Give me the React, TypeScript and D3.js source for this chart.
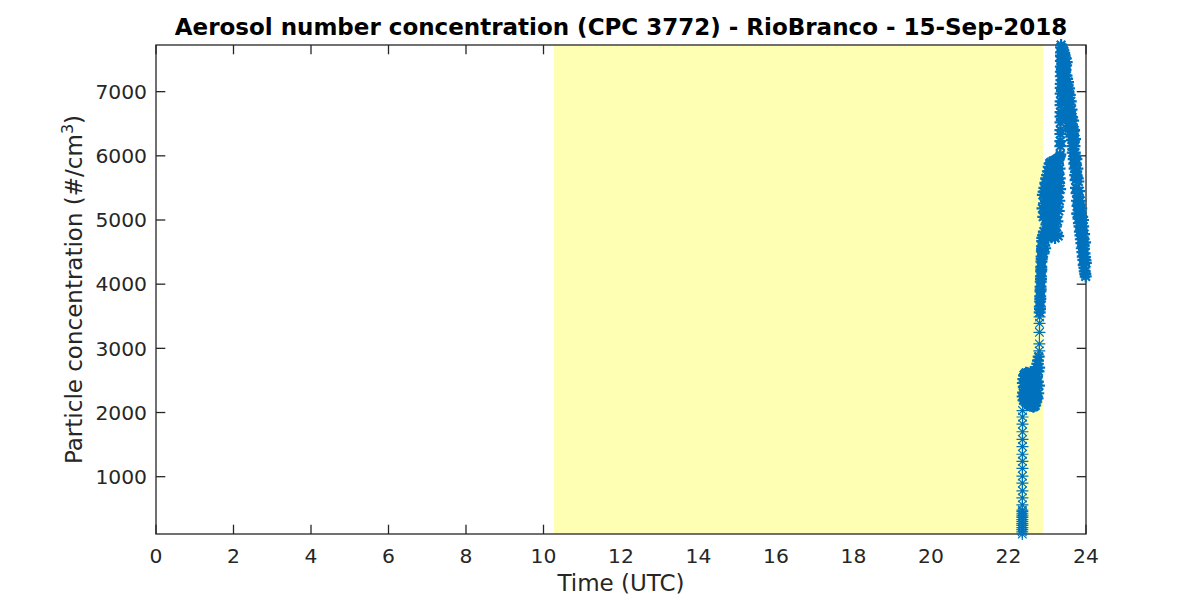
import React from "react";
import * as d3 from "d3";

const TITLE = "Aerosol number concentration (CPC 3772) - RioBranco - 15-Sep-2018";
const X_LABEL = "Time (UTC)";
const xTicks = [0, 2, 4, 6, 8, 10, 12, 14, 16, 18, 20, 22, 24];
const yTicks = [1000, 2000, 3000, 4000, 5000, 6000, 7000];
const daylight: [number, number] = [10.27, 22.89];

// [hour UTC, particles/cm3]
const startup: [number, number][] = [
  [22.356, 107], [22.356, 140], [22.356, 175], [22.357, 205], [22.357, 240], [22.357, 270],
  [22.357, 300], [22.357, 330], [22.358, 365], [22.358, 390], [22.358, 420], [22.358, 455],
  [22.358, 480], [22.358, 560], [22.359, 670], [22.359, 780], [22.359, 900], [22.359, 1010],
  [22.360, 1130], [22.360, 1240], [22.360, 1350], [22.361, 1470], [22.361, 1580], [22.361, 1700],
  [22.362, 1820], [22.362, 1930], [22.362, 2030],
];

const plateau: [number, number][] = [
  [22.365, 2250], [22.371, 2460], [22.377, 2310], [22.383, 2520], [22.389, 2190], [22.395, 2400],
  [22.401, 2580], [22.407, 2280], [22.413, 2470], [22.419, 2210], [22.425, 2600], [22.431, 2350],
  [22.437, 2170], [22.443, 2490], [22.449, 2300], [22.455, 2620], [22.461, 2230], [22.467, 2420],
  [22.473, 2150], [22.479, 2550], [22.485, 2330], [22.491, 2180], [22.497, 2610], [22.503, 2270],
  [22.509, 2450], [22.515, 2140], [22.521, 2380], [22.527, 2590], [22.533, 2200], [22.539, 2480],
  [22.545, 2120], [22.551, 2320], [22.557, 2560], [22.563, 2110], [22.569, 2400], [22.575, 2630],
  [22.581, 2170], [22.587, 2290], [22.593, 2510], [22.599, 2100], [22.605, 2360], [22.611, 2600],
  [22.617, 2130], [22.623, 2440], [22.629, 2250], [22.635, 2580], [22.641, 2090], [22.647, 2340],
  [22.653, 2520], [22.659, 2100], [22.665, 2410], [22.671, 2640], [22.677, 2180], [22.683, 2470],
  [22.689, 2110], [22.695, 2560], [22.701, 2290], [22.707, 2650], [22.713, 2200], [22.719, 2430],
  [22.725, 2700], [22.731, 2250], [22.737, 2560], [22.743, 2760], [22.749, 2220], [22.755, 2480],
  [22.761, 2810], [22.767, 2300], [22.773, 2640], [22.779, 2870], [22.785, 2420], [22.790, 2700],
];

const jump: [number, number][] = [
  [22.795, 2960], [22.797, 3070], [22.799, 3250], [22.801, 3390], [22.803, 3490],
];

const rise: [number, number][] = [
  [22.806, 3560], [22.809, 3650], [22.812, 3610], [22.815, 3730], [22.818, 3810], [22.821, 3770],
  [22.824, 3890], [22.827, 3960], [22.830, 3920], [22.833, 4040], [22.836, 4120], [22.839, 4080],
  [22.842, 4200], [22.845, 4270], [22.848, 4230], [22.851, 4350], [22.854, 4430], [22.857, 4390],
  [22.860, 4510], [22.863, 4590], [22.866, 4550], [22.869, 4670],
];

const midBand: [number, number][] = [
  [22.872, 4720], [22.877, 5180], [22.882, 4520], [22.887, 5390], [22.892, 4760], [22.897, 5050],
  [22.902, 4480], [22.907, 5440], [22.912, 4820], [22.917, 5260], [22.922, 4600], [22.927, 5500],
  [22.932, 4700], [22.937, 5120], [22.942, 5350], [22.947, 4560], [22.952, 5580], [22.957, 5010],
  [22.962, 4750], [22.967, 5290], [22.972, 5650], [22.977, 4930], [22.982, 5440], [22.987, 5100],
  [22.992, 4780], [22.997, 5700], [23.002, 5220], [23.007, 4900], [23.012, 5520], [23.017, 5760],
  [23.022, 4720], [23.027, 5060], [23.032, 5380], [23.037, 5830], [23.042, 4840], [23.047, 5250],
  [23.052, 5610], [23.057, 4990], [23.062, 5880], [23.067, 4760], [23.072, 5430], [23.077, 5150],
  [23.082, 5720], [23.087, 4880], [23.092, 5310], [23.097, 5900], [23.102, 5040], [23.107, 4730],
  [23.112, 5560], [23.117, 5200], [23.122, 5800], [23.127, 4950], [23.132, 5470], [23.137, 4800],
  [23.142, 5650], [23.147, 5090], [23.152, 5920], [23.157, 5340], [23.162, 4760], [23.167, 5580],
  [23.172, 5010], [23.177, 5860], [23.182, 4870], [23.187, 5420], [23.192, 5740], [23.197, 5160],
  [23.202, 4720], [23.207, 5600], [23.212, 5930], [23.217, 5270], [23.222, 4900], [23.227, 5490],
  [23.232, 5830], [23.237, 5050], [23.242, 4780], [23.247, 5680], [23.252, 5360], [23.257, 5950],
  [23.262, 4980], [23.267, 5530], [23.272, 5210], [23.277, 5880], [23.282, 4750], [23.287, 5420],
  [23.292, 5720], [23.297, 5140], [23.302, 5960], [23.307, 5580], [23.312, 5300], [23.317, 5800],
  [23.322, 5650], [23.327, 5990], [23.332, 5480],
];

const peakRise: [number, number][] = [
  [23.337, 6020], [23.338, 6150], [23.339, 6230], [23.340, 6340], [23.341, 6400], [23.342, 6520],
  [23.343, 6610], [23.344, 6680], [23.345, 6790], [23.346, 6850], [23.347, 6970], [23.348, 7060],
  [23.349, 7120], [23.350, 7240], [23.351, 7310], [23.352, 7390], [23.353, 7480], [23.354, 7560],
  [23.355, 7610], [23.356, 7690], [23.357, 7727],
];

const highBand: [number, number][] = [
  [23.362, 7550], [23.367, 7180], [23.372, 7620], [23.377, 7350], [23.382, 7020], [23.387, 7480],
  [23.392, 7680], [23.397, 7260], [23.402, 7570], [23.407, 6950], [23.412, 7420], [23.417, 7640],
  [23.422, 7130], [23.427, 7500], [23.432, 7310], [23.437, 7600], [23.442, 6990], [23.447, 7380],
  [23.452, 7550], [23.457, 7200], [23.462, 7450], [23.467, 6900], [23.472, 7340], [23.477, 7520],
  [23.482, 7080], [23.487, 7410], [23.492, 6860], [23.497, 7250], [23.502, 7460], [23.507, 6980],
  [23.512, 7200], [23.517, 6750], [23.522, 7080], [23.527, 6620], [23.532, 6900], [23.537, 7150],
  [23.542, 6700], [23.547, 6980], [23.552, 6520], [23.557, 6850], [23.562, 7050], [23.567, 6600],
  [23.572, 6430], [23.577, 6800], [23.582, 6950], [23.587, 6510], [23.592, 6700], [23.597, 6380],
  [23.602, 6620], [23.607, 6850], [23.612, 6450], [23.617, 6300], [23.622, 6560], [23.627, 6720],
];

const descent: [number, number][] = [
  [23.632, 6480], [23.637, 6250], [23.642, 6600], [23.647, 6150], [23.652, 6420], [23.657, 6050],
  [23.662, 6330], [23.667, 6550], [23.672, 6100], [23.677, 6380], [23.682, 5950], [23.687, 6230],
  [23.692, 6400], [23.697, 5880], [23.702, 6150], [23.707, 5800], [23.712, 6050], [23.717, 6260],
  [23.722, 5700], [23.727, 5980], [23.732, 5620], [23.737, 5880], [23.742, 5500], [23.747, 5760],
  [23.752, 5950], [23.757, 5420], [23.762, 5680], [23.767, 5300], [23.772, 5100], [23.777, 5800],
  [23.782, 5220], [23.787, 5650], [23.792, 5100], [23.797, 5370], [23.802, 5600], [23.807, 5020],
  [23.812, 5280], [23.817, 4950], [23.822, 5200], [23.827, 5450], [23.832, 4900], [23.837, 5150],
  [23.842, 4820], [23.847, 5080], [23.852, 5300], [23.857, 4760], [23.862, 5020], [23.867, 4700],
  [23.872, 4950], [23.877, 5180], [23.882, 4640], [23.887, 4880], [23.892, 4560], [23.897, 4800],
  [23.902, 5050], [23.907, 4500], [23.912, 4740], [23.917, 4430], [23.922, 5000], [23.927, 4900],
  [23.932, 4380], [23.937, 4620], [23.942, 4300], [23.947, 4550], [23.952, 4780], [23.957, 4260],
  [23.962, 4480], [23.967, 4200], [23.972, 4420], [23.977, 4650], [23.982, 4160], [23.987, 4370],
  [23.992, 4120], [23.997, 4330],
];

const sparseSegments = [startup, jump];
const denseSegments = [plateau, rise, midBand, peakRise, highBand, descent];

const W = 1200;
const H = 600;
const M = { left: 156, right: 1086, top: 45, bottom: 534 };
const AXIS = "#262626";
const BLUE = "#0072BD";
const FONT = "'DejaVu Sans', sans-serif";
const TICK = 9.3;
const STAR = "M-6,0H6M0,-6V6M-4.3,-4.3L4.3,4.3M-4.3,4.3L4.3,-4.3";

export default function App() {
  const all = [...sparseSegments.flat(), ...denseSegments.flat()] as [number, number][];
  const x = d3.scaleLinear().domain([0, 24]).range([M.left, M.right]);
  const ext = d3.extent(all, (d) => d[1]) as [number, number];
  const y = d3.scaleLinear().domain(ext).range([M.bottom, M.top]);

  const marks = (pts: [number, number][], key: string) =>
    pts.map((d, i) => (
      <path key={key + i} d={STAR} transform={`translate(${x(d[0])},${y(d[1])})`} />
    ));

  return (
    <svg
      width={W}
      height={H}
      style={{ position: "fixed", left: 0, top: 0, background: "#fff" }}
      fontFamily={FONT}
    >
      <rect x={0} y={0} width={W} height={H} fill="#fff" />
      <g stroke={AXIS} strokeWidth={1.3}>
        {xTicks.map((t) => (
          <g key={"xt" + t}>
            <line x1={x(t)} x2={x(t)} y1={M.bottom} y2={M.bottom - TICK} />
            <line x1={x(t)} x2={x(t)} y1={M.top} y2={M.top + TICK} />
          </g>
        ))}
        {yTicks.map((t) => (
          <g key={"yt" + t}>
            <line x1={M.left} x2={M.left + TICK} y1={y(t)} y2={y(t)} />
            <line x1={M.right} x2={M.right - TICK} y1={y(t)} y2={y(t)} />
          </g>
        ))}
      </g>
      <rect
        x={x(daylight[0])}
        y={M.top}
        width={x(daylight[1]) - x(daylight[0])}
        height={M.bottom - M.top}
        fill="#ffffb4"
      />
      <rect
        x={M.left}
        y={M.top}
        width={M.right - M.left}
        height={M.bottom - M.top}
        fill="none"
        stroke={AXIS}
        strokeWidth={1.3}
      />
      <g stroke={BLUE} fill="none">
        <g strokeWidth={1.2}>{sparseSegments.map((s, k) => marks(s, "s" + k + "-"))}</g>
        <g strokeWidth={2.2}>{denseSegments.map((s, k) => marks(s, "d" + k + "-"))}</g>
      </g>
      <g fill={AXIS} fontSize={20.3}>
        {xTicks.map((t) => (
          <text key={"xl" + t} x={x(t)} y={562.5} textAnchor="middle">
            {t}
          </text>
        ))}
        {yTicks.map((t) => (
          <text key={"yl" + t} x={147} y={y(t)} dy="0.36em" textAnchor="end">
            {t}
          </text>
        ))}
      </g>
      <text x={(M.left + M.right) / 2} y={590.5} textAnchor="middle" fontSize={23} fill={AXIS}>
        {X_LABEL}
      </text>
      <text
        transform={`translate(82,${(M.top + M.bottom) / 2}) rotate(-90)`}
        textAnchor="middle"
        fontSize={23}
        fill={AXIS}
      >
        Particle concentration (#/cm
        <tspan fontSize={16} dy={-9}>3</tspan>
        <tspan dy={9}>)</tspan>
      </text>
      <text
        x={(M.left + M.right) / 2}
        y={35}
        textAnchor="middle"
        fontSize={23}
        fontWeight="bold"
        fill="#000"
      >
        {TITLE}
      </text>
    </svg>
  );
}
